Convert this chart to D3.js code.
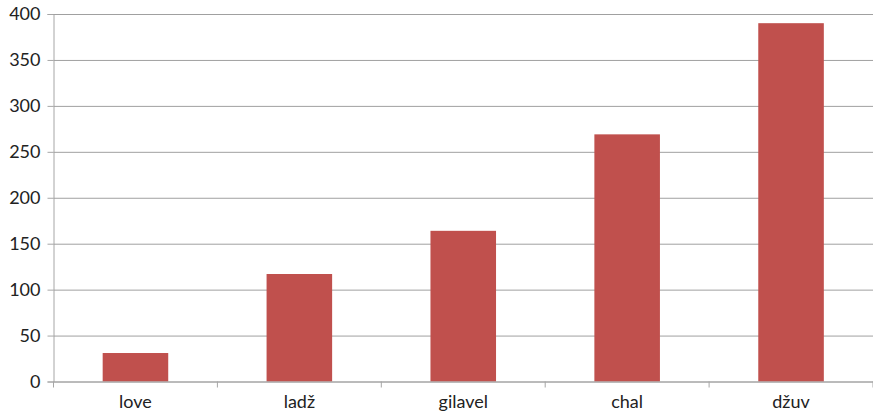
<!DOCTYPE html>
<html>
<head>
<meta charset="utf-8">
<script src="https://cdn.jsdelivr.net/npm/d3@7"></script>
<style>
  body { margin: 0; background: #fff; }
  svg { display: block; font-family: Lato, "Open Sans", sans-serif; }
</style>
</head>
<body>
<svg class="bar-chart" width="873" height="414"></svg>
<script>
const categories = ['love', 'ladž', 'gilavel', 'chal', 'džuv'];
const values = [31, 117, 164, 269, 390];
const yTicks = [0, 50, 100, 150, 200, 250, 300, 350, 400];

const margin = { top: 14, right: 0, bottom: 32.5, left: 53.5 };
const width = 873 - margin.left - margin.right;
const height = 414 - margin.top - margin.bottom;

const svg = d3.select('.bar-chart');
const g = svg.append('g').attr('transform', `translate(${margin.left},${margin.top})`);

const x = d3.scaleBand()
  .domain(categories)
  .range([0, width])
  .paddingInner(0.6)
  .paddingOuter(0.3);

const y = d3.scaleLinear().domain([0, 400]).range([height, 0]);

// gridlines + y axis
const yAxis = g.append('g')
  .call(d3.axisLeft(y).tickValues(yTicks).tickSize(6).tickPadding(7));
yAxis.select('.domain').attr('stroke', '#a6a6a6');
yAxis.selectAll('.tick line').attr('stroke', '#a6a6a6');
yAxis.selectAll('.tick').append('line')
  .attr('x2', width)
  .attr('stroke', '#a0a0a0')
  .attr('stroke-width', 1);
yAxis.selectAll('text').attr('font-size', 18).attr('fill', '#222').attr('font-family', 'Lato, sans-serif');

// bars
g.append('g').selectAll('rect')
  .data(categories)
  .enter().append('rect')
    .attr('x', d => x(d))
    .attr('y', (d, i) => y(values[i]))
    .attr('width', x.bandwidth())
    .attr('height', (d, i) => height - y(values[i]))
    .attr('fill', '#c0504d');

// x axis
const xAxis = g.append('g')
  .attr('transform', `translate(0,${height})`)
  .call(d3.axisBottom(x).tickSize(0).tickPadding(14));
xAxis.select('.domain').attr('stroke', '#a6a6a6');
xAxis.selectAll('text').attr('font-size', 18).attr('fill', '#222').attr('font-family', 'Lato, sans-serif');

// tick marks at band boundaries
const step = x.step();
const bounds = d3.range(categories.length + 1).map(i => i * width / categories.length);
xAxis.selectAll('.sep')
  .data(bounds)
  .enter().append('line')
    .attr('class', 'sep')
    .attr('x1', d => d).attr('x2', d => d)
    .attr('y1', 0).attr('y2', 6)
    .attr('stroke', '#a6a6a6');
</script>
</body>
</html>
